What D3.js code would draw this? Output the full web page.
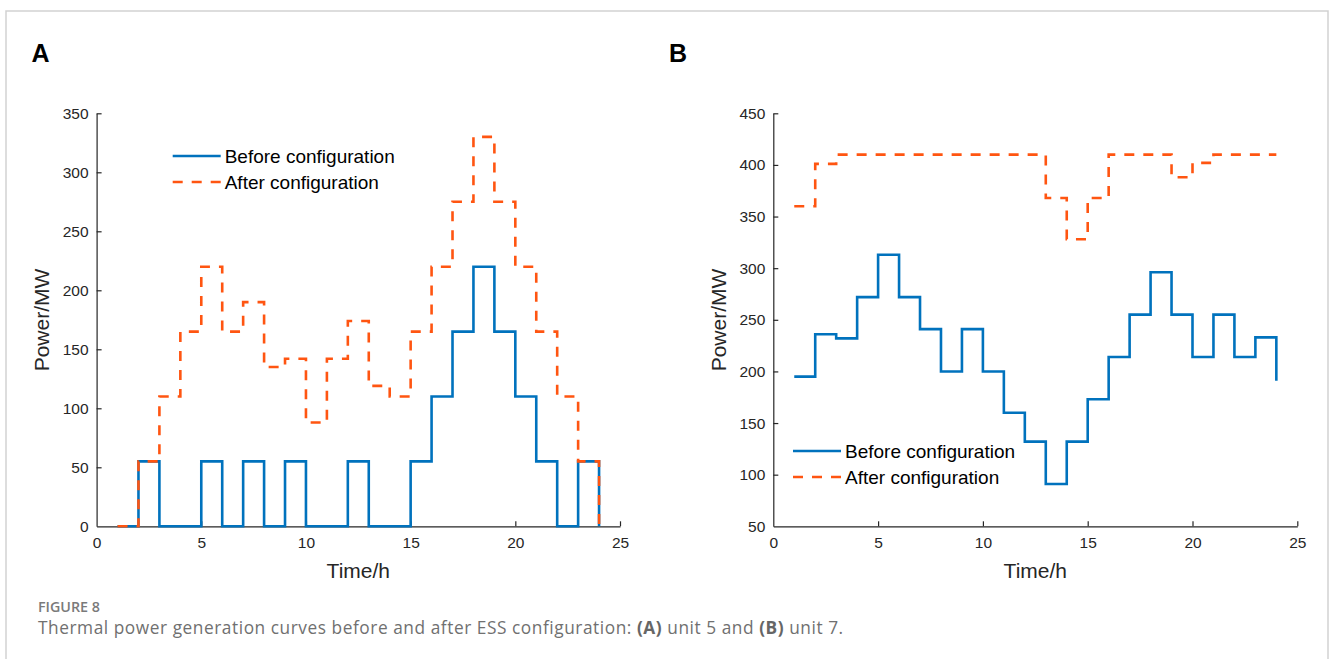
<!DOCTYPE html>
<html>
<head>
<meta charset="utf-8">
<script src="https://cdn.jsdelivr.net/npm/d3@7"></script>
<style>
  html, body { margin: 0; padding: 0; background: #fff; }
  svg { display: block; }
</style>
</head>
<body>
<script>
// ---- Data ----
const hours = [1,2,3,4,5,6,7,8,9,10,11,12,13,14,15,16,17,18,19,20,21,22,23,24];
const unit5Before = [0,55,0,0,55,0,55,0,55,0,0,55,0,0,55,110,165,220,165,110,55,0,55,0];
const unit5After  = [0,55,110,165,220,165,190,135,142,88,142,174,119,110,165,220,275,330,275,220,165,110,55,0];
const unit7Before = [195,236,232,272,313,272,241,200,241,200,160,132,91,132,173,214,255,296,255,214,255,214,233,191];
const unit7After  = [360,401,410,410,410,410,410,410,410,410,410,410,368,328,368,410,410,410,388,402,410,410,410,410];
const xTicks = [0,5,10,15,20,25];
const yTicksA = [0,50,100,150,200,250,300,350];
const yTicksB = [50,100,150,200,250,300,350,400,450];
const seriesNames = ["Before configuration", "After configuration"];
const panelLabels = ["A", "B"];
const xLabel = "Time/h";
const yLabel = "Power/MW";

const W = 1330, H = 659;
const BLUE = "#0072BD", ORANGE = "#FF5511";
const svg = d3.select("body").append("svg").attr("width", W).attr("height", H);

// frame
svg.append("rect").attr("x", 6).attr("y", 11).attr("width", 1322).attr("height", 700)
  .attr("fill", "none").attr("stroke", "#d2d2d2").attr("stroke-width", 1.5);

const AX = "'Liberation Sans', Arial, Helvetica, sans-serif";

function panel(cfg) {
  const x = d3.scaleLinear().domain([0, 25]).range([cfg.x0, cfg.x1]);
  const y = d3.scaleLinear().domain(cfg.yDomain).range([526.3, 113.3]);
  const g = svg.append("g");

  // axes
  const xAxis = d3.axisBottom(x).tickValues(xTicks).tickSize(-5).tickPadding(11).tickSizeOuter(0);
  const gx = g.append("g").attr("transform", `translate(0,${y.range()[0]})`).call(xAxis);
  const yAxis = d3.axisLeft(y).tickValues(cfg.yTicks).tickSize(-5).tickPadding(8).tickSizeOuter(0);
  const gy = g.append("g").attr("transform", `translate(${x(0)},0)`).call(yAxis);
  [gx, gy].forEach(a => {
    a.attr("font-family", null).attr("font-size", null);
    a.select(".domain").attr("stroke", "#262626").attr("stroke-width", 1.2);
    a.selectAll(".tick line").attr("stroke", "#262626").attr("stroke-width", 1.2);
    a.selectAll(".tick text").attr("fill", "#262626").style("font-family", AX).style("font-size", "15.5px");
  });
  gy.selectAll(".tick").filter(d => d === cfg.yTicks[0]).select("line").remove();
  gx.selectAll(".tick").filter(d => d === 0).select("line").remove();

  // lines
  const line = d3.line().x((d, i) => x(hours[i])).y(d => y(d)).curve(d3.curveStepAfter);
  g.append("path").datum(cfg.before).attr("d", line)
    .attr("fill", "none").attr("stroke", BLUE).attr("stroke-width", 2.6);
  g.append("path").datum(cfg.after).attr("d", line)
    .attr("fill", "none").attr("stroke", ORANGE).attr("stroke-width", 2.6)
    .attr("stroke-dasharray", "10,9");

  // legend
  const lg = g.append("g");
  [[BLUE, null], [ORANGE, "10,9"]].forEach((s, i) => {
    const ly = cfg.legY + i * 26;
    lg.append("line").attr("x1", cfg.legX).attr("x2", cfg.legX + 48)
      .attr("y1", ly).attr("y2", ly).attr("stroke", s[0]).attr("stroke-width", 2.6)
      .attr("stroke-dasharray", s[1]);
    lg.append("text").attr("x", cfg.legX + 52).attr("y", ly + 6.5).text(seriesNames[i])
      .style("font-family", AX).style("font-size", "19px").attr("fill", "#000");
  });

  // axis labels
  g.append("text").attr("x", (cfg.x0 + cfg.x1) / 2).attr("y", 578).attr("text-anchor", "middle")
    .text(xLabel).style("font-family", AX).style("font-size", "21px").attr("fill", "#262626");
  g.append("text").attr("transform", `translate(${cfg.yLabX},320) rotate(-90)`)
    .attr("text-anchor", "middle").text(yLabel)
    .style("font-family", AX).style("font-size", "21px").attr("fill", "#262626");

  // panel label
  g.append("text").attr("x", cfg.labX).attr("y", 61.5).text(cfg.label)
    .style("font-family", AX).style("font-size", "25px").style("font-weight", "bold").attr("fill", "#000");
}

panel({ x0: 96.6, x1: 620, yDomain: [0, 350], yTicks: yTicksA, before: unit5Before, after: unit5After,
        legX: 172.7, legY: 156, yLabX: 49, labX: 31.5, label: panelLabels[0] });
panel({ x0: 773.3, x1: 1297.3, yDomain: [50, 450], yTicks: yTicksB, before: unit7Before, after: unit7After,
        legX: 793, legY: 451, yLabX: 726, labX: 669, label: panelLabels[1] });

// caption
const CAP = "'Open Sans', Lato, sans-serif";
svg.append("text").attr("x", 38).attr("y", 612).text("FIGURE 8")
  .style("font-family", CAP).style("font-size", "14.3px").style("font-weight", "600").attr("fill", "#7a7a7a");
const cap = svg.append("text").attr("x", 38).attr("y", 634)
  .style("font-family", CAP).style("font-size", "17.3px").style("letter-spacing", "0.55px").attr("fill", "#707070");
cap.append("tspan").text("Thermal power generation curves before and after ESS configuration: ");
cap.append("tspan").text("(A)").style("font-weight", "bold").attr("fill", "#666");
cap.append("tspan").text(" unit 5 and ");
cap.append("tspan").text("(B)").style("font-weight", "bold").attr("fill", "#666");
cap.append("tspan").text(" unit 7.");
</script>
</body>
</html>
